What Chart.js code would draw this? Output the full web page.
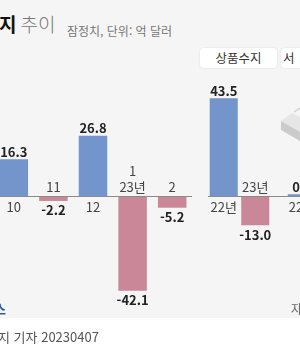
<!DOCTYPE html>
<html lang="ko">
<head>
<meta charset="UTF-8">
<script src="https://cdn.jsdelivr.net/npm/chart.js"></script>
<style>
    body {
        margin: 0;
        width: 300px;
        height: 350px;
        overflow: hidden;
        position: relative;
        background: #ffffff;
        font-family: 'Noto Sans CJK KR', 'Noto Sans', sans-serif;
    }
    .panel {
        position: absolute;
        left: 0; top: 0;
        width: 300px; height: 318px;
        background: #f5f5f5;
    }
    .cv { position: absolute; top: 0; height: 350px; }
    .title { position: absolute; left: -1px; top: 12px; font-size: 19px; line-height: 24px; white-space: nowrap; }
    .title b { color: #111; font-weight: 700; }
    .title span { color: #777; font-weight: 300; margin-left: 4px; }
    .sub { position: absolute; left: 67px; top: 22px; font-size: 12px; color: #777; white-space: nowrap; }
    .tab {
        position: absolute; top: 48px; height: 20px;
        background: #fff; border-radius: 4px;
        box-shadow: 0 0 2px rgba(0,0,0,0.12);
        font-size: 12.5px; line-height: 20px; color: #333; text-align: center;
        white-space: nowrap;
    }
    .foot { position: absolute; left: -2px; top: 327px; font-size: 13px; color: #555; white-space: nowrap; }
    .logo { position: absolute; left: -6px; top: 299px; font-size: 13px; color: #2c5ea8; font-weight: 700; }
    .src { position: absolute; left: 291px; top: 300px; font-size: 12px; color: #666; }
</style>
</head>
<body>
<div class="panel"></div>
<svg style="position:absolute;left:0;top:0" width="300" height="350">
    <polygon points="281,121 292,113 300,117 300,132" fill="#e6e6e6"/>
    <polygon points="281,121 300,132 300,141 281,130" fill="#cbcbcb"/>
    <line x1="294" y1="112" x2="300" y2="108" stroke="#d4d4d4" stroke-width="1.5"/>
</svg>
<div class="title"><b>지</b><span>추이</span></div>
<div class="sub">잠정치, 단위: 억 달러</div>
<div class="tab" style="left:200px;width:77px">상품수지</div>
<div class="tab" style="left:281px;width:77px;text-align:left;padding-left:2px;letter-spacing:8px">서비스수지</div>
<canvas id="monthChart" class="cv" style="left:-6px" width="198" height="350"></canvas>
<canvas id="yearChart" class="cv" style="left:208px" width="63" height="350"></canvas>
<canvas id="yearChart2" class="cv" style="left:270px" width="48" height="350"></canvas>
<div class="logo">스</div>
<div class="src">자</div>
<div class="foot">지 기자 20230407</div>

<script>
// Monthly balance (억 달러)
const monthLabels = ['10', '11', '12', ['1', '23년'], '2'];
const monthValues = [16.3, -2.2, 26.8, -42.1, -5.2];

// Yearly goods balance
const yearLabels = ['22년', '23년'];
const yearValues = [43.5, -13.0];

// Next group (cut off at the right edge)
const year2Labels = ['22년'];
const year2Values = [0.8];

const BLUE = '#7395cb';
const PINK = '#c98798';
const Y_MIN = -68.44;
const Y_MAX = 87.11;

// Baseline, value labels and category labels
const labelPlugin = {
    id: 'barLabels',
    afterDatasetsDraw(chart) {
        const ctx = chart.ctx;
        const zero = chart.scales.y.getPixelForValue(0);
        ctx.save();
        ctx.strokeStyle = '#8a8a8a';
        ctx.lineWidth = 1;
        ctx.beginPath();
        ctx.moveTo(0, Math.round(zero) + 0.5);
        ctx.lineTo(chart.width, Math.round(zero) + 0.5);
        ctx.stroke();

        const values = chart.data.datasets[0].data;
        const meta = chart.getDatasetMeta(0);
        ctx.textAlign = 'center';
        ctx.textBaseline = 'middle';
        meta.data.forEach((bar, i) => {
            const v = values[i];
            const x = bar.x;
            ctx.fillStyle = '#222';
            ctx.font = 'bold 13px "Noto Sans CJK KR", sans-serif';
            if (v >= 0) {
                ctx.fillText(v.toFixed(1), x, bar.y - 7.5);
            } else {
                ctx.fillText(v.toFixed(1), x, bar.y + 9.5);
            }
            let lab = chart.data.labels[i];
            if (!Array.isArray(lab)) lab = [lab];
            ctx.fillStyle = '#444';
            ctx.font = '13px "Noto Sans CJK KR", sans-serif';
            if (v >= 0) {
                lab.forEach((t, k) => ctx.fillText(t, x, zero + 11.5 + k * 16));
            } else {
                lab.forEach((t, k) => ctx.fillText(t, x, zero - 8.5 - (lab.length - 1 - k) * 16));
            }
        });
        ctx.restore();
    }
};

function makeChart(id, labels, values, barPct, padLeft) {
    return new Chart(document.getElementById(id), {
        type: 'bar',
        data: {
            labels: labels,
            datasets: [{
                data: values,
                backgroundColor: values.map(v => v >= 0 ? BLUE : PINK),
                borderWidth: 0,
                barPercentage: barPct,
                categoryPercentage: 1
            }]
        },
        options: {
            responsive: false,
            animation: false,
            layout: { padding: { left: padLeft, right: 0, top: 0, bottom: 0 } },
            plugins: { legend: { display: false }, tooltip: { enabled: false } },
            scales: {
                x: { display: false },
                y: { display: false, min: Y_MIN, max: Y_MAX }
            }
        },
        plugins: [labelPlugin]
    });
}

makeChart('monthChart', monthLabels, monthValues, 0.72, 0);
makeChart('yearChart', yearLabels, yearValues, 0.89, 0);
makeChart('yearChart2', year2Labels, year2Values, 0.89, 16);
</script>
</body>
</html>
